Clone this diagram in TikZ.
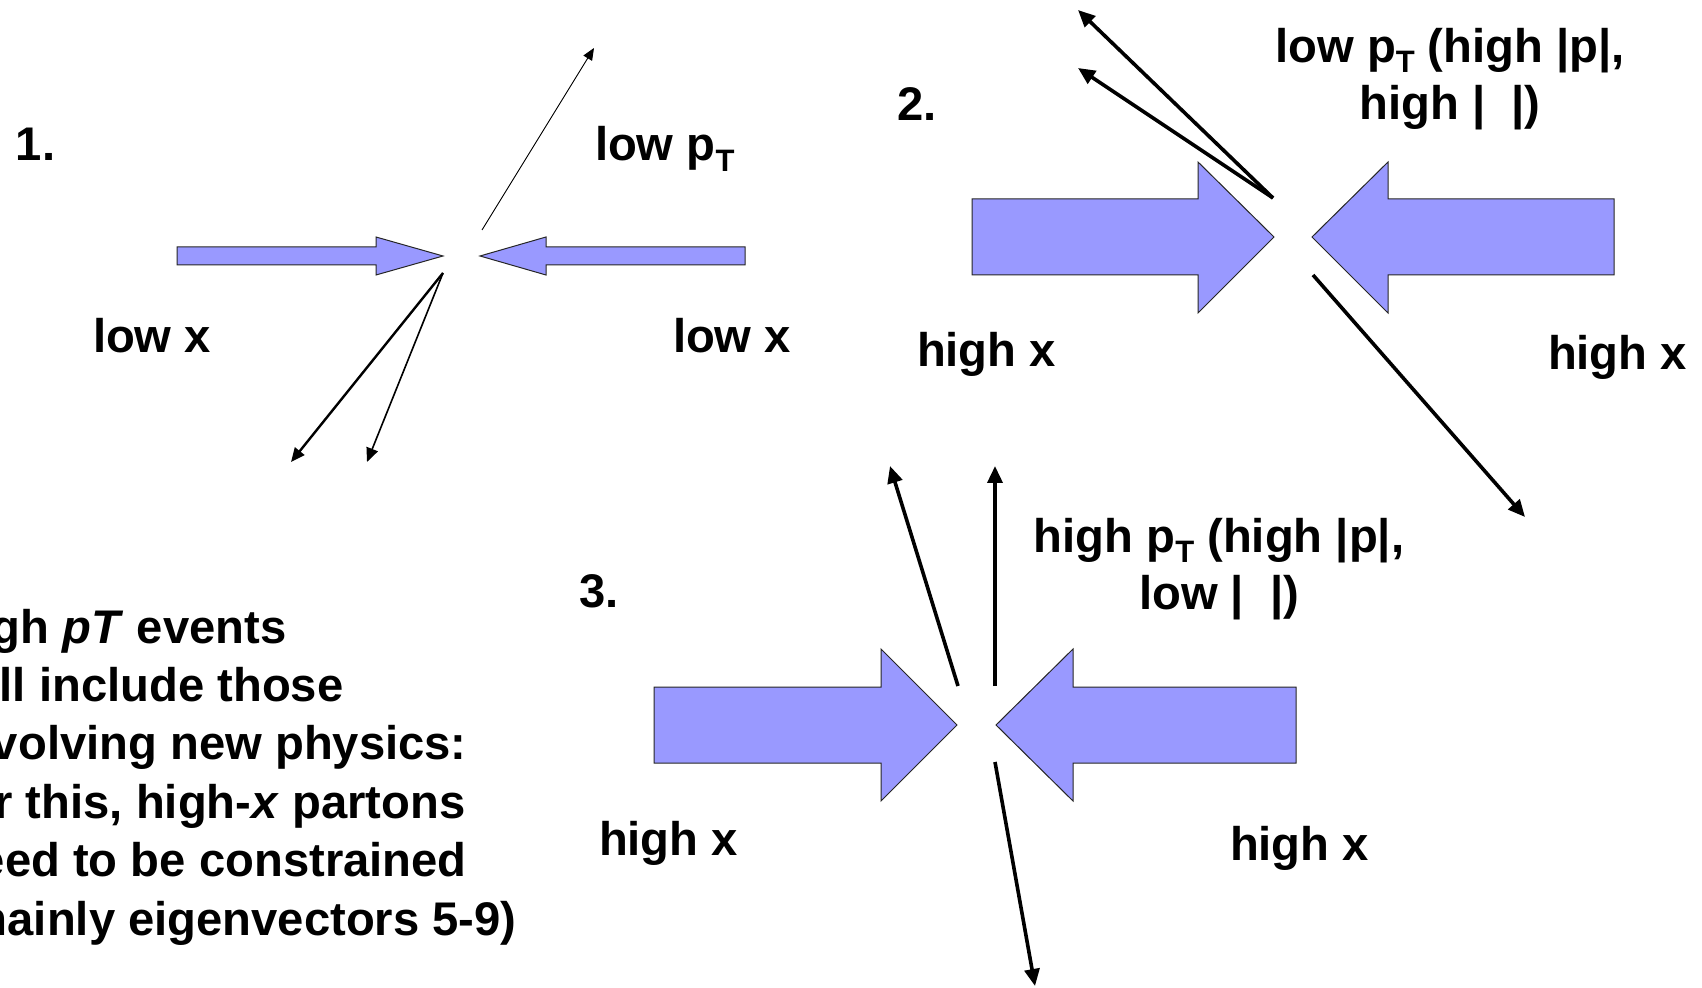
\documentclass[tikz,border=0pt]{standalone}
\usepackage{fontspec}
\setmainfont{Liberation Sans}
\usetikzlibrary{arrows.meta}
\definecolor{blockfill}{RGB}{153,153,255}
\newcommand{\subT}{\raisebox{-0.22em}{\fontsize{15.5}{15.5}\selectfont T}}
\begin{document}
\begin{tikzpicture}[x=0.5pt,y=-0.5pt,
  blockarrow/.style={fill=blockfill,draw=black!85,line width=0.5pt,line join=miter},
  lbl/.style={font=\fontsize{23.6}{28.8}\selectfont\bfseries,inner sep=0pt,outer sep=0pt},
  jet/.style={draw=black,line width=1.8pt,-{Triangle[length=8.5pt,width=7.5pt]}},
  thinjet/.style={draw=black,line width=0.9pt,-{Triangle[length=7pt,width=6pt]}},
  hairjet/.style={draw=black,line width=0.45pt,-{Triangle[length=6pt,width=5pt]}},
]
\useasboundingbox (0,0) rectangle (1702,988);
\clip (0,0) rectangle (1702,988);

% ---------- diagram 1 ----------
\draw[blockarrow] (177,247) -- (376,247) -- (376,237) -- (443,256) -- (376,275) -- (376,265) -- (177,265) -- cycle;
\draw[blockarrow] (745,247) -- (546,247) -- (546,237) -- (480,256) -- (546,275) -- (546,265) -- (745,265) -- cycle;
\coordinate (a1o) at (482,230);
\coordinate (a1u) at (594,48);
\coordinate (a1c) at (443,273);
\coordinate (a1d) at (291,462);
\coordinate (a1e) at (367,462);
\draw[hairjet] (a1o) -- (a1u);
\draw[thinjet,line width=1.2pt] (a1c) -- (a1d);
\draw[thinjet,line width=0.8pt] (a1c) -- (a1e);
\node[lbl,anchor=base west] (n1) at (16,161) {1.};
\node[lbl,anchor=base west] (lx1) at (93,353) {low x};
\node[lbl,anchor=base west] (lx2) at (673,353) {low x};
\node[lbl,anchor=base west] (lpt) at (595,161) {low p\subT};

% ---------- diagram 2 ----------
\draw[blockarrow] (972,199) -- (1198,199) -- (1198,162) -- (1274,237) -- (1198,313) -- (1198,275) -- (972,275) -- cycle;
\draw[blockarrow] (1614,199) -- (1388,199) -- (1388,162) -- (1312,237) -- (1388,313) -- (1388,275) -- (1614,275) -- cycle;
\coordinate (b2o) at (1273,198);
\coordinate (b2u) at (1078,10);
\coordinate (b2v) at (1078,68);
\coordinate (b2c) at (1313,275);
\coordinate (b2d) at (1525,517);
\draw[jet] (b2o) -- (b2u);
\draw[jet] (b2o) -- (b2v);
\draw[jet] (b2c) -- (b2d);
\node[lbl,anchor=base west] (n2) at (897,121) {2.};
\node[lbl,anchor=base west] (hx1) at (917,367) {high x};
\node[lbl,anchor=base west] (hx2) at (1548,370) {high x};
\node[lbl,anchor=base,align=center] (t2) at (1450,120) {low p\subT\ (high |p|,\\high |\hspace{0.55em}|)};

% ---------- diagram 3 ----------
\draw[blockarrow] (654,687) -- (881,687) -- (881,649) -- (957,725) -- (881,801) -- (881,763) -- (654,763) -- cycle;
\draw[blockarrow] (1296,687) -- (1073,687) -- (1073,649) -- (996,725) -- (1073,801) -- (1073,763) -- (1296,763) -- cycle;
\coordinate (c3a) at (958,686);
\coordinate (c3b) at (890,466);
\coordinate (c3o) at (995,686);
\coordinate (c3u) at (995,466);
\coordinate (c3c) at (995,762);
\coordinate (c3d) at (1035,986);
\draw[jet] (c3a) -- (c3b);
\draw[jet] (c3o) -- (c3u);
\draw[jet] (c3c) -- (c3d);
\node[lbl,anchor=base west] (n3) at (579,608) {3.};
\node[lbl,anchor=base west] (hx3) at (599,855) {high x};
\node[lbl,anchor=base west] (hx4) at (1230,860) {high x};
\node[lbl,anchor=base,align=center] (t3) at (1219,610) {high p\subT\ (high |p|,\\low |\hspace{0.55em}|)};

% ---------- side text ----------
\node[lbl,anchor=base west,align=left,font=\fontsize{23.6}{29.2}\selectfont\bfseries] (side) at (-50,935)
  {high \textit{pT} events\\will include those\\involving new physics:\\for this, high-\textit{x} partons\\need to be constrained\\(mainly eigenvectors 5-9)};
\end{tikzpicture}
\end{document}
